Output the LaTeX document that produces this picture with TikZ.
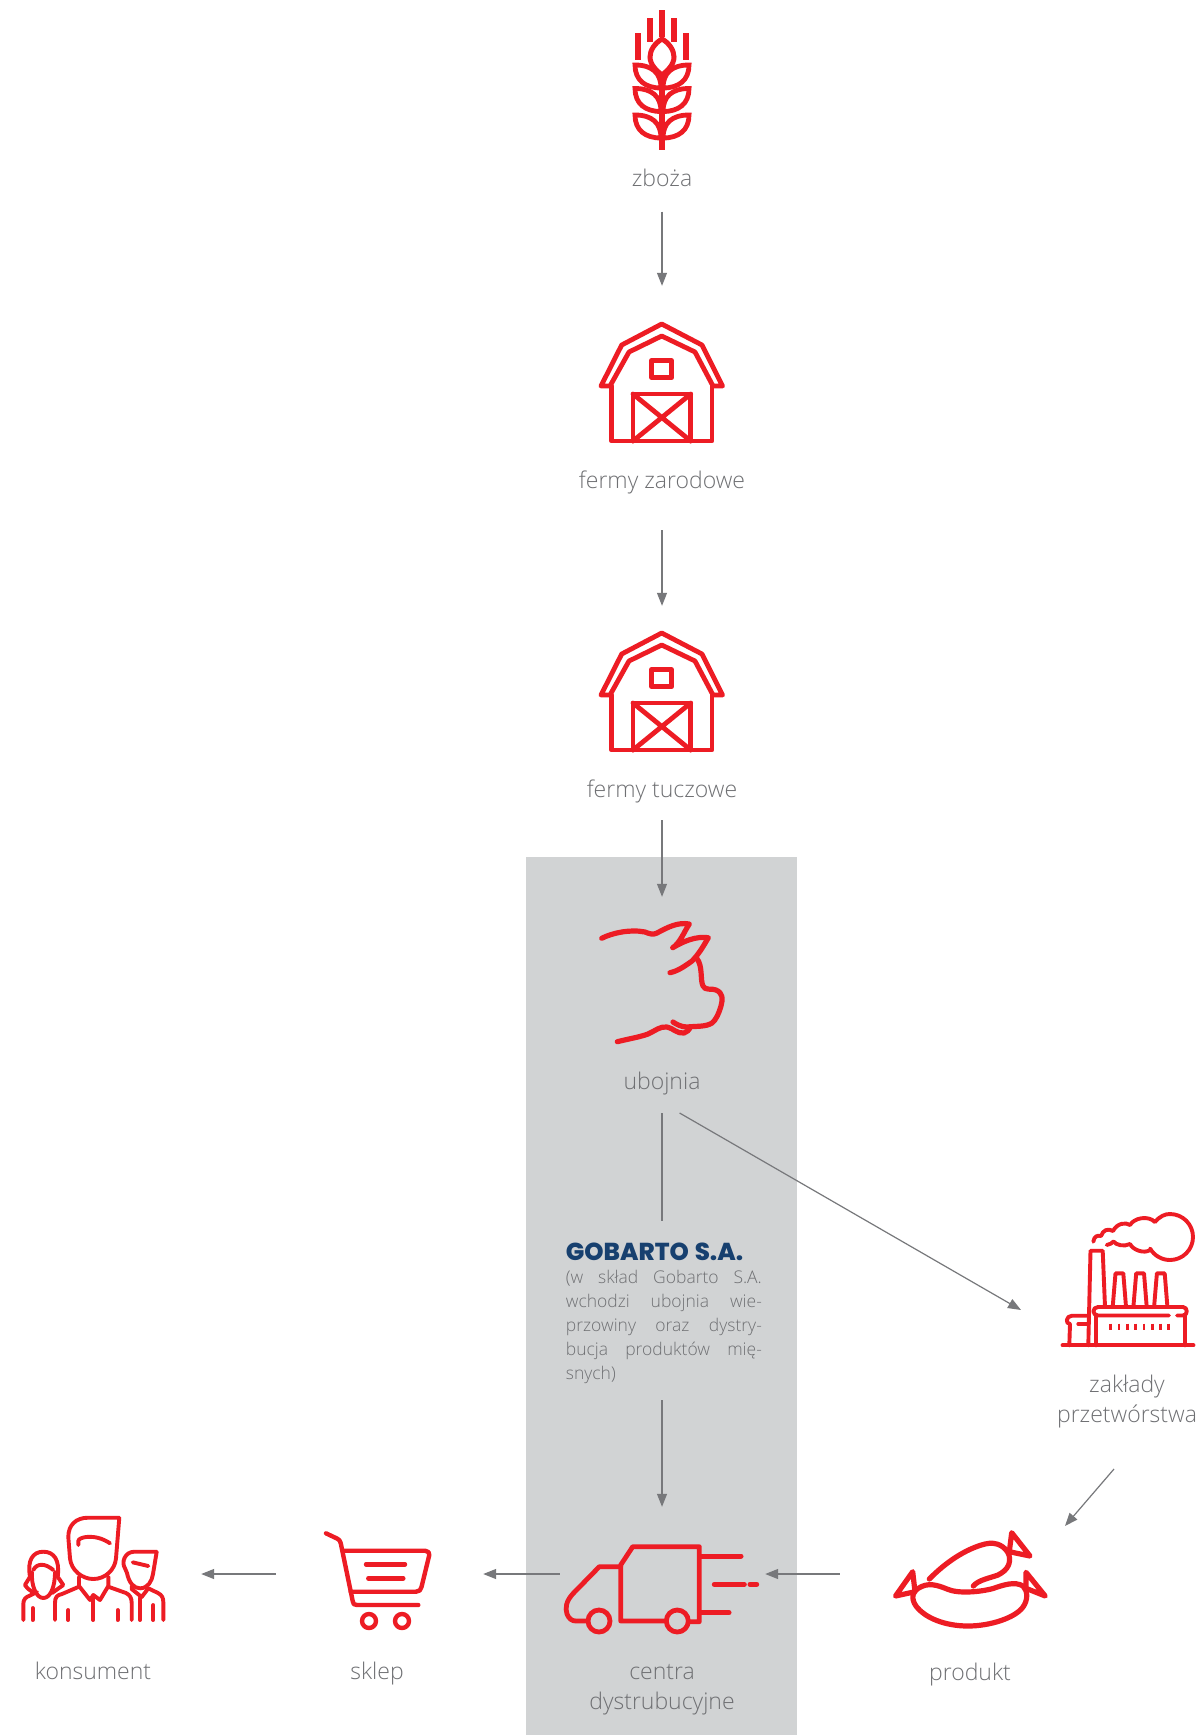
\documentclass[tikz,border=0pt]{standalone}
\usepackage{fontspec}
\usetikzlibrary{arrows.meta}
\setmainfont{Open Sans Light}
\newfontfamily\brandfont{Poppins ExtraBold}
\definecolor{iconred}{HTML}{ED1C24}
\definecolor{labelgrey}{HTML}{6F7073}
\definecolor{panelgrey}{HTML}{D1D3D4}
\definecolor{flowgrey}{HTML}{77787B}
\definecolor{brandblue}{HTML}{17406F}
\newcommand{\fitline}[1]{\leavevmode\hbox to 196pt{#1}}
\tikzset{
  icon/.style={draw=iconred,line width=4.8pt,line cap=round,line join=round},
  thinicon/.style={icon,line width=3.9pt},
  twolabel/.style={text=labelgrey,font=\fontsize{23}{30}\selectfont,inner sep=0pt,align=center},
  label/.style={twolabel,text height=16pt,text depth=5pt},
  iconbox/.style={inner sep=0pt,minimum width=#1},
  flow/.style={draw=flowgrey,line width=1.2pt,-{Triangle[length=13pt,width=10pt]}},
  flowplain/.style={draw=flowgrey,line width=1.2pt},
}
\newcommand{\barnicon}[1]{%
  \begin{scope}[yshift=#1]
    \draw[icon] (661.7,324) -- (621.7,345) -- (601,386) -- (610,386) -- (629,352) -- (661.7,336) -- (695,352) -- (713,386) -- (722.5,386) -- (702,345) -- cycle;
    \draw[icon] (611.7,386) -- (611.7,441) -- (712,441) -- (712,386);
    \draw[icon] (651.7,360.7) rectangle (671.7,377.7);
    \draw[icon] (633,441) -- (633,394) -- (690.7,394) -- (690.7,441);
    \draw[icon] (633,394) -- (690.7,441) (690.7,394) -- (633,441);
  \end{scope}}
\begin{document}
\begin{tikzpicture}[x=1pt,y=-1pt]
\useasboundingbox (0,0) rectangle (1202,1735);
\fill[white] (0,0) rectangle (1202,1735);
\fill[panelgrey] (526,857) rectangle (797,1735);

% wheat
\node[iconbox=60pt,minimum height=150pt] (wheat) at (662,80) {};
\begin{scope}[icon,line cap=butt]
  \draw[line width=5.5pt] (662,10) -- (662,37) (650,18) -- (650,42) (674,18) -- (674,42) (638,33) -- (638,60) (686,33) -- (686,60);
  \draw[line width=5pt,line join=miter] (662,39) .. controls (655,43) and (650,50) .. (650,57) .. controls (650,65) and (657,71) .. (662,75) .. controls (667,71) and (674,65) .. (674,57) .. controls (674,50) and (669,43) .. (662,39) -- cycle;
  \draw[line width=5.5pt] (662,75) -- (662,150);
  \foreach \dy in {0,23.5,50}{
    \draw[line width=4.8pt,line join=miter,yshift=-\dy pt] (635,65) .. controls (652,65) and (661,73) .. (661,88) .. controls (645,88) and (635,80) .. (635,65) -- cycle;
    \draw[line width=4.8pt,line join=miter,yshift=-\dy pt] (689,65) .. controls (672,65) and (663,73) .. (663,88) .. controls (679,88) and (689,80) .. (689,65) -- cycle;
  }
\end{scope}
\node[label] (zboza) at (662,180.5) {zboża};

% barns
\node[iconbox=124pt,minimum height=119pt] (zarodowe) at (662,382.5) {};
\barnicon{0pt}
\node[label] (zarodoweL) at (662,483) {fermy zarodowe};
\node[iconbox=124pt,minimum height=119pt] (tuczowe) at (662,690.5) {};
\barnicon{-309pt}
\node[label] (tuczoweL) at (662,791.5) {fermy tuczowe};

% pig
\node[iconbox=122pt,minimum height=120pt] (pig) at (662,982) {};
\begin{scope}[icon,line width=5.2pt]
\draw (601.7,938.3) .. controls (612,933) and (630,929) .. (645,932) .. controls (650,934) and (653,935) .. (657,933) .. controls (668,927) and (678,922) .. (689.3,924) .. controls (684,932) and (680,943) .. (672.7,947.7) .. controls (684,941) and (696,936) .. (708.3,937.7) .. controls (703,947) and (698,955) .. (692,961) .. controls (685,966) and (678,971) .. (670,972.7);
\draw (696.7,958.3) .. controls (703,966) and (700,980) .. (703,986) .. controls (705,991) and (712,988) .. (716,990) .. controls (723,993) and (723,999) .. (721,1006) .. controls (719,1013) and (716,1020) .. (712,1023) .. controls (706,1027) and (696,1026) .. (687,1027) .. controls (681,1027) and (676,1024) .. (673,1022);
\draw (617.3,1041.7) .. controls (628,1039) and (640,1037) .. (648,1034) .. controls (655,1031) and (660,1026) .. (667,1027) .. controls (673,1028) and (677,1034) .. (684,1033) .. controls (687,1032) and (689,1030) .. (690,1028);
\end{scope}
\node[label] (ubojnia) at (662,1083.5) {ubojnia};

% Gobarto text
\node[inner sep=0pt,anchor=north west,text width=196pt,text=labelgrey,font=\fontsize{17.5}{24}\selectfont,align=left] (gobarto) at (565.7,1242.5) {%
  {\color{brandblue}\brandfont\fontsize{24.5}{24}\selectfont GOBARTO S.A.}\\[-1pt]
  \fitline{(w\hfill skład\hfill Gobarto\hfill S.A.}\\
  \fitline{wchodzi\hfill ubojnia\hfill wie-}\\
  \fitline{przowiny\hfill oraz\hfill dystry-}\\
  \fitline{bucja\hfill produktów\hfill mię-}\\
  snych)};

% factory
\node[iconbox=136pt,minimum height=130pt] (factory) at (1128,1282) {};
\begin{scope}[thinicon]
  \draw (1062.5,1345.3) -- (1193.5,1345.3);
  \draw (1088.3,1345.3) -- (1090.5,1250.7) -- (1102.7,1250.7) -- (1105,1306.7);
  \foreach \dx in {0,20.7,41.4}{
    \draw[xshift=\dx pt] (1112.7,1306.7) -- (1115.5,1273.3) -- (1123.3,1273.3) -- (1126,1306.7);
  }
  \draw (1177,1315.5) -- (1183,1315.5) .. controls (1188,1315.5) and (1188,1307) .. (1183,1307) -- (1098,1307) .. controls (1092,1307) and (1092,1315.5) .. (1098,1315.5) -- (1169,1315.5);
  \draw (1096,1315.7) -- (1096,1345.3) (1185,1315.7) -- (1185,1345.3);
  \draw (1086.7,1315.7) -- (1072,1315.7) .. controls (1066,1315.7) and (1065,1324) .. (1070,1324) -- (1069.3,1345.3);
  \draw (1078.3,1324) -- (1086.7,1324);
  \foreach \i in {0,...,7}{
    \draw[line cap=butt,line width=2.8pt] (1110.7+8.3*\i,1323.5) -- (1110.7+8.3*\i,1330);
  }
  \draw (1093.3,1241.7) .. controls (1094,1236) and (1098,1235) .. (1101,1236) .. controls (1103,1230) and (1108,1228) .. (1113,1231) .. controls (1117,1223) and (1126,1222) .. (1130,1225) .. controls (1134,1218) and (1148,1215) .. (1155,1222) .. controls (1160,1216) and (1165,1214) .. (1170,1214) arc[start angle=90,end angle=-150,radius=23pt];
  \draw (1106.7,1245) .. controls (1110,1244.5) and (1112,1243) .. (1113.5,1241.5) .. controls (1116,1245) and (1124,1247) .. (1130,1244) .. controls (1133,1250) and (1144,1254) .. (1150,1250);
\end{scope}
\node[twolabel] (factoryL) at (1127,1401.5) {zakłady\\przetwórstwa};

% sausages
\node[iconbox=151pt,minimum height=100pt] (sausage) at (970.5,1574) {};
\begin{scope}[icon,line width=5.2pt]
\draw (929.3,1579) .. controls (945,1563) and (965,1549) .. (985,1544) .. controls (997,1541) and (1006,1547) .. (1009,1555) .. controls (1011,1563) and (1008,1570) .. (998,1575) .. controls (990,1578) and (978,1580) .. (973.3,1586);
\draw (1011.7,1532.7) -- (1030,1556) -- (1009.3,1551.7) -- cycle;
\draw (918.3,1588.3) .. controls (928,1582) and (937,1585) .. (947,1589) .. controls (958,1594) and (980,1592) .. (993,1588.5) .. controls (1003,1585) and (1015,1581) .. (1023,1586) .. controls (1028,1591) and (1028,1600) .. (1023,1607) .. controls (1015,1618) and (990,1626) .. (968,1626) .. controls (945,1626) and (925,1618) .. (916,1606) .. controls (911,1599) and (912,1591) .. (918.3,1588.3) -- cycle;
\draw (912.7,1571.7) -- (895.5,1596) -- (915,1591.7) -- cycle;
\draw (1026,1572.3) -- (1045.2,1596) -- (1026,1588.3) -- cycle;
\end{scope}
\node[label] (sausageL) at (970,1674.5) {produkt};

% truck
\node[iconbox=192pt,minimum height=100pt] (truck) at (662,1574) {};
\begin{scope}[icon]
  \draw (665,1621) -- (620.7,1621) -- (620.7,1565) -- (632.7,1546.7) -- (699.3,1546.7) -- (699.3,1621.7) -- (690,1621.7);
  \draw (620.7,1566.7) -- (599.3,1566.7) -- (573.3,1593.3) .. controls (566,1601) and (565,1608) .. (567,1614) .. controls (569,1619) and (572,1621) .. (576,1621) -- (586.7,1621);
  \draw (599,1621) circle[radius=11pt] (677.3,1621) circle[radius=11pt];
  \draw[line width=5pt] (700.7,1556) -- (741,1556) (714.3,1584.3) -- (744.3,1584.3) (750,1584.3) -- (756.7,1584.3) (700.7,1612.7) -- (729,1612.7);
\end{scope}
\node[twolabel] (truckL) at (662,1690) {centra\\dystrubucyjne};

% cart
\node[iconbox=104pt,minimum height=100pt] (cart) at (378,1574) {};
\begin{scope}[icon,line width=4.4pt]
  \draw (326,1533.3) -- (337,1538.5) .. controls (339,1539.5) and (340,1540.5) .. (340.7,1543) -- (352.7,1601) .. controls (353,1604) and (354,1605) .. (357,1605) -- (418.3,1605);
  \draw (342.7,1550.7) -- (425,1550.7) .. controls (428,1550.7) and (430,1553) .. (429.3,1555) -- (421.5,1587) .. controls (421,1590) and (419,1591.7) .. (416,1591.7) -- (350.7,1591.7);
  \draw (366,1564.3) -- (405,1564.3) (368.3,1578.3) -- (403.3,1578.3);
  \draw (369,1621) circle[radius=7pt] (402,1621) circle[radius=7pt];
\end{scope}
\node[label] (cartL) at (377,1673.5) {sklep};

% people
\node[iconbox=143pt,minimum height=100pt] (people) at (93.5,1574) {};
\begin{scope}[thinicon]
  \draw (119.3,1517.7) -- (88,1517.7) .. controls (76,1517.7) and (68.3,1525) .. (68.3,1537) -- (70,1558.3) .. controls (71,1570) and (82,1579) .. (93.3,1579) .. controls (105,1579) and (115,1570) .. (116,1558.3) -- (119.3,1517.7);
  \draw (78.3,1545) -- (78.3,1541) .. controls (78.3,1537) and (95,1533) .. (110,1543.3);
  \draw (79,1576.7) -- (79,1586) -- (90,1600) -- (93.3,1595) -- (100,1600) -- (108.3,1586) -- (108.3,1576.7);
  \draw (55,1620) -- (55,1603) .. controls (55,1597) and (57,1595) .. (62,1594) -- (79,1586.7);
  \draw (108.3,1586.7) -- (126,1593) .. controls (130,1595) and (131.7,1598) .. (131.7,1603) -- (131.7,1620);
  \draw (93.3,1598) -- (93.3,1620) (68.3,1610) -- (68.3,1620) (117.7,1610) -- (117.7,1620);
  % woman
  \draw (35,1593) .. controls (30,1591) and (27,1588) .. (25,1585) -- (30,1576.7) .. controls (27,1560) and (33,1551.7) .. (43.3,1551.7) .. controls (54,1551.7) and (60,1560) .. (57.7,1576.7) -- (63.3,1585) -- (52,1593);
  \draw (33.3,1570) .. controls (37,1563) and (45,1563) .. (53.3,1570);
  \draw (32,1572) .. controls (31,1585) and (36,1598) .. (43.3,1598) .. controls (50,1598) and (55,1588) .. (55,1572);
  \draw (23.3,1620) -- (23.3,1604) .. controls (23.3,1599) and (26,1597) .. (30,1595.5) -- (37,1592);
  \draw (32.7,1608) -- (32.7,1620);
  % right man
  \draw (156.7,1551.7) -- (134,1551.7) .. controls (125,1552) and (121,1562) .. (125,1568.3) -- (127,1573) .. controls (129,1583) and (134,1588.3) .. (140,1588.3) .. controls (148,1588.3) and (152,1581) .. (153,1574) -- (156.7,1551.7);
  \draw (132.7,1562.3) -- (148.3,1566);
  \draw (131.7,1586) -- (131.7,1589) -- (141.7,1597) -- (148.3,1588.3) -- (158,1593) .. controls (162,1595) and (163.3,1598) .. (163.3,1602) -- (163.3,1620);
  \draw (140,1598) -- (140,1620) (153.3,1605) -- (153.3,1620);
\end{scope}
\node[label] (peopleL) at (93,1673.5) {konsument};

% free ends of the slanted connectors
\coordinate (slaughterOut) at (679.6,1113);
\coordinate (factoryIn) at (1021,1310);
\coordinate (factoryOut) at (1114,1469);
\coordinate (sausageIn) at (1065,1526);

% connectors
\draw[flow,shorten <=20.5pt,shorten >=37pt] (zboza.south) -- (zarodowe.north);
\draw[flow,shorten <=36.5pt,shorten >=25pt] (zarodoweL.south) -- (tuczowe.north);
\draw[flow,shorten <=18pt,shorten >=25pt] (tuczoweL.south) -- (pig);
\draw[flowplain,shorten <=19pt,shorten >=22pt] (ubojnia.south) -- (ubojnia.south |- gobarto.north);
\draw[flow] (slaughterOut) -- (factoryIn);
\draw[flow] (factoryOut) -- (sausageIn);
\draw[flow,shorten <=16.5pt,shorten >=17pt] (gobarto.south -| truck.north) -- (truck.north);
\draw[flow,shorten <=55pt,shorten >=7pt] (sausage.west) -- (truck.east);
\draw[flow,shorten <=6pt,shorten >=53pt] (truck.west) -- (cart.east);
\draw[flow,shorten <=50pt,shorten >=36pt] (cart.west) -- (people.east);
\end{tikzpicture}
\end{document}
